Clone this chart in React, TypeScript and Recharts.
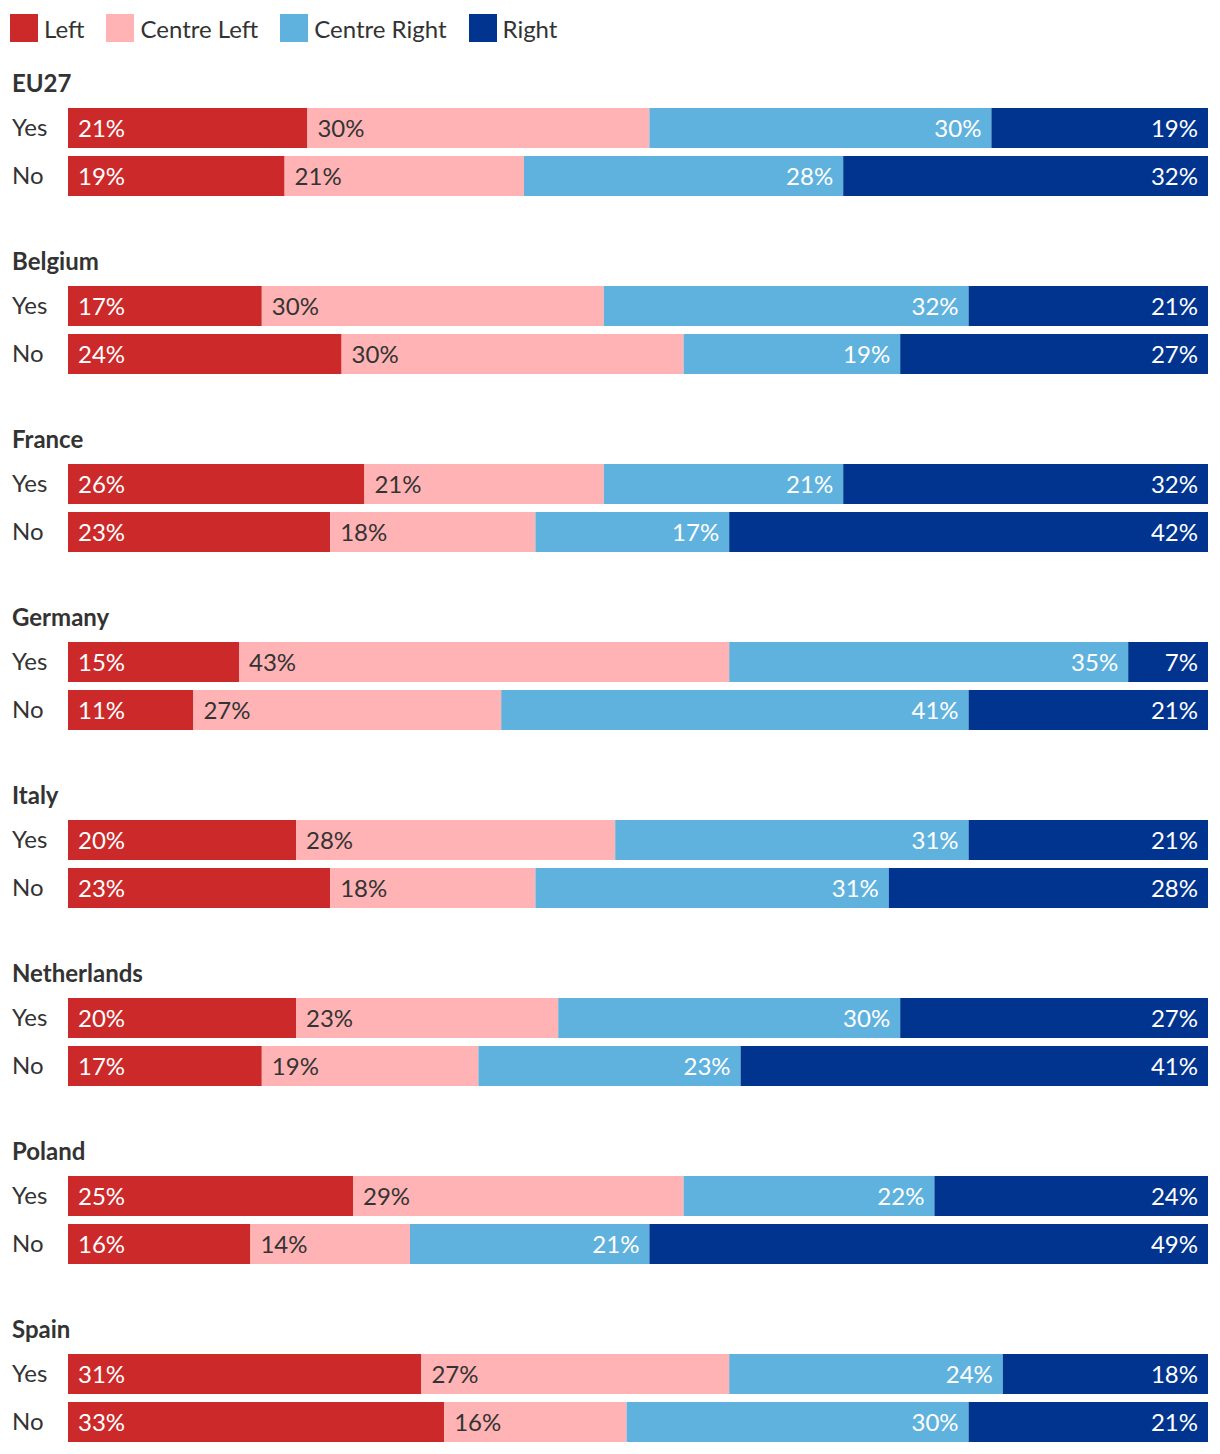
import React from 'react';
import { BarChart, Bar, XAxis, YAxis, LabelList } from 'recharts';

const countries = ['EU27', 'Belgium', 'France', 'Germany', 'Italy', 'Netherlands', 'Poland', 'Spain'];
const answers = ['Yes', 'No'];

// one entry per country: [Yes, No]
const leftValues = [[21, 19], [17, 24], [26, 23], [15, 11], [20, 23], [20, 17], [25, 16], [31, 33]];
const centreLeftValues = [[30, 21], [30, 30], [21, 18], [43, 27], [28, 18], [23, 19], [29, 14], [27, 16]];
const centreRightValues = [[30, 28], [32, 19], [21, 17], [35, 41], [31, 31], [30, 23], [22, 21], [24, 30]];
const rightValues = [[19, 32], [21, 27], [32, 42], [7, 21], [21, 28], [27, 41], [24, 49], [18, 21]];

const series = [
  { key: 'left', name: 'Left', color: '#cc2a2a', text: '#ffffff', side: 'insideLeft' },
  { key: 'centreLeft', name: 'Centre Left', color: '#ffb3b5', text: '#333333', side: 'insideLeft' },
  { key: 'centreRight', name: 'Centre Right', color: '#60b2de', text: '#ffffff', side: 'insideRight' },
  { key: 'right', name: 'Right', color: '#00348f', text: '#ffffff', side: 'insideRight' },
];

const FONT = 'Lato, "Noto Sans", sans-serif';
const SIZE = 24;

const AnswerTick = (props: any) => {
  const { y, payload } = props;
  return (
    <text x={4} y={y} dy={8} textAnchor="start" fill="#333" fontSize={SIZE} fontFamily={FONT}>
      {payload.value}
    </text>
  );
};

const CountryChart = ({ index }: { index: number }) => {
  const data = answers.map((answer, j) => ({
    answer,
    left: leftValues[index][j],
    centreLeft: centreLeftValues[index][j],
    centreRight: centreRightValues[index][j],
    right: rightValues[index][j],
  }));

  return (
    <div style={{ marginBottom: 48 }}>
      <div style={{ height: 26, lineHeight: '26px', fontSize: SIZE, fontWeight: 700, color: '#333', paddingLeft: 4, marginBottom: 8 }}>
        {countries[index]}
      </div>
      <BarChart
        width={1200}
        height={96}
        data={data}
        layout="vertical"
        margin={{ top: 0, right: 0, bottom: 0, left: 0 }}
        barCategoryGap={4}
      >
        <XAxis type="number" domain={[0, 100]} hide />
        <YAxis type="category" dataKey="answer" width={60} axisLine={false} tickLine={false} tick={<AnswerTick />} />
        {series.map((s) => (
          <Bar key={s.key} dataKey={s.key} stackId="a" fill={s.color} isAnimationActive={false}>
            <LabelList
              dataKey={s.key}
              position={s.side as any}
              offset={10}
              formatter={(v: any) => `${v}%`}
              fill={s.text}
              fontSize={SIZE}
              fontFamily={FONT}
            />
          </Bar>
        ))}
      </BarChart>
    </div>
  );
};

export default function App() {
  return (
    <div style={{ fontFamily: FONT, width: 1204 }}>
      <div style={{ display: 'flex', alignItems: 'center', height: 28, marginTop: 6, marginBottom: 28, paddingLeft: 2 }}>
        {series.map((s) => (
          <div key={s.key} style={{ display: 'flex', alignItems: 'center', marginRight: 22 }}>
            <span style={{ display: 'inline-block', width: 28, height: 28, background: s.color, marginRight: 6 }} />
            <span style={{ fontSize: SIZE, color: '#333' }}>{s.name}</span>
          </div>
        ))}
      </div>
      {countries.map((c, i) => (
        <CountryChart key={c} index={i} />
      ))}
    </div>
  );
}
